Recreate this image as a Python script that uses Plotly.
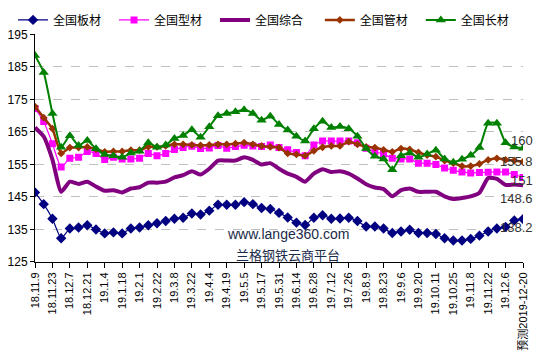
import plotly.graph_objects as go

categories = [
    "18.11.9", "18.11.16", "18.11.23", "18.11.30", "18.12.7", "18.12.14", "18.12.21", "18.12.28",
    "19.1.4", "19.1.11", "19.1.18", "19.1.25", "19.2.1", "19.2.15", "19.2.22", "19.3.1",
    "19.3.8", "19.3.15", "19.3.22", "19.3.29", "19.4.4", "19.4.12", "19.4.19", "19.4.26",
    "19.5.5", "19.5.10", "19.5.17", "19.5.24", "19.5.31", "19.6.6", "19.6.14", "19.6.21",
    "19.6.28", "19.7.5", "19.7.12", "19.7.19", "19.7.26", "19.8.2", "19.8.9", "19.8.16",
    "19.8.23", "19.8.30", "19.9.6", "19.9.12", "19.9.20", "19.9.27", "19.10.11", "19.10.18",
    "19.10.25", "19.11.1", "19.11.8", "19.11.15", "19.11.22", "19.11.29", "19.12.6", "19.12.13",
    "预测2019-12-20",
]

plate = [146.4, 142.8, 138.3, 132.3, 135.3, 135.6, 136.3, 135.0, 133.8, 134.1, 133.8, 135.3,
         135.6, 136.3, 136.9, 137.6, 138.3, 138.6, 139.9, 139.6, 140.8, 142.6, 142.6, 142.6,
         143.4, 142.8, 141.6, 141.3, 140.1, 138.7, 137.1, 136.4, 138.6, 139.4, 138.3, 138.4,
         138.6, 137.6, 135.9, 135.9, 135.3, 133.9, 134.4, 134.9, 133.9, 133.9, 133.6, 132.3,
         131.6, 131.6, 132.1, 133.1, 134.4, 135.3, 135.8, 137.8, 138.2]

section = [172.2, 168.2, 161.4, 154.2, 156.9, 157.2, 159.0, 158.4, 156.5, 157.2, 156.7, 156.7,
           156.9, 158.4, 157.7, 158.4, 159.6, 160.2, 160.6, 159.9, 160.1, 160.8, 160.0, 160.5,
           160.9, 160.7, 160.5, 161.0, 160.2, 159.5, 158.7, 157.7, 161.0, 162.2, 162.2, 162.2,
           162.2, 161.7, 160.0, 158.9, 158.2, 156.9, 156.7, 156.7, 155.4, 155.4, 155.0, 153.9,
           153.2, 152.7, 152.4, 152.5, 152.6, 152.7, 152.7, 151.9, 151.0]

composite = [166.4, 163.6, 156.5, 146.6, 149.7, 149.0, 149.7, 148.2, 146.9, 147.1, 146.4, 147.6,
             148.0, 149.4, 149.4, 149.7, 151.0, 151.7, 152.9, 151.9, 153.7, 156.2, 156.2, 156.2,
             157.2, 156.4, 155.0, 155.4, 153.7, 152.2, 151.2, 149.7, 152.2, 153.5, 152.7, 152.9,
             152.2, 150.7, 148.9, 147.9, 147.4, 145.2, 147.1, 147.6, 146.6, 146.6, 146.6, 145.2,
             144.4, 144.7, 145.2, 146.3, 150.8, 150.6, 148.7, 148.8, 148.6]

pipe = [172.8, 169.4, 166.0, 158.4, 160.2, 160.2, 160.4, 159.7, 158.9, 159.0, 159.0, 159.4,
        159.4, 160.4, 160.4, 160.7, 161.2, 161.2, 161.0, 160.9, 161.0, 161.2, 161.2, 161.4,
        161.7, 161.2, 160.7, 160.4, 160.2, 158.4, 158.1, 157.7, 159.2, 160.3, 160.7, 160.7,
        162.0, 161.2, 160.4, 160.2, 159.5, 158.9, 159.9, 159.6, 158.7, 157.9, 157.4, 156.2,
        155.4, 154.5, 154.5, 155.2, 156.4, 156.9, 156.4, 156.2, 155.8]

long_steel = [188.5, 183.3, 170.7, 160.3, 163.8, 160.8, 162.4, 159.8, 158.1, 157.7, 157.2, 158.5,
              159.1, 161.7, 160.3, 161.0, 163.0, 163.9, 165.7, 163.4, 166.6, 170.0, 170.7, 171.2,
              171.8, 170.7, 168.6, 169.8, 167.3, 165.6, 163.7, 162.2, 166.0, 168.3, 166.4, 166.7,
              166.0, 163.7, 159.9, 157.5, 156.7, 153.4, 157.7, 158.5, 157.2, 158.2, 159.4, 156.7,
              155.7, 156.6, 157.8, 160.2, 167.7, 167.7, 161.7, 160.4, 160.0]

y_ticks = [125, 135, 145, 155, 165, 175, 185, 195]

fig = go.Figure()

series = [
    ("全国板材", plate, "#000080", 1.2, "diamond", 8, "lines+markers", "legend"),
    ("全国型材", section, "#FF00FF", 1.2, "square", 7, "lines+markers", "legend"),
    ("全国综合", composite, "#800080", 4, None, 0, "lines", "legend"),
    ("全国管材", pipe, "#993300", 2.5, "diamond", 6, "lines+markers", "legend2"),
    ("全国长材", long_steel, "#008000", 2, "triangle-up", 9, "lines+markers", "legend2"),
]
for name, vals, color, width, sym, size, mode, leg in series:
    kw = dict(x=categories, y=vals, name=name, mode=mode, legend=leg,
              line=dict(color=color, width=width, shape="spline", smoothing=0.5))
    if sym:
        kw["marker"] = dict(symbol=sym, size=size, color=color, line=dict(width=0))
    fig.add_trace(go.Scatter(**kw))

end_labels = [
    (long_steel[-1], "160", 8),
    (pipe[-1], "155.8", 0),
    (section[-1], "151", -3),
    (composite[-1], "148.6", -13),
    (plate[-1], "138.2", -8),
]
for val, txt, ys in end_labels:
    fig.add_annotation(x=categories[-1], y=val, text=txt, showarrow=False,
                       xanchor="right", yanchor="middle", xshift=12, yshift=ys,
                       font=dict(size=13, color="#333333", family="Liberation Sans, Arial"))

fig.add_annotation(xref="paper", yref="paper", x=0.518, y=0.125, text="www.lange360.com",
                   showarrow=False, xanchor="center", yanchor="middle",
                   font=dict(size=14, color="#1a2a4a", family="Liberation Sans, Arial"))
fig.add_annotation(xref="paper", yref="paper", x=0.518, y=0.034, text="兰格钢铁云商平台",
                   showarrow=False, xanchor="center", yanchor="middle",
                   font=dict(size=13, color="#1a2a4a", family="Noto Sans CJK SC"))

legend_common = dict(orientation="h", xref="container", yref="container",
                     xanchor="left", y=0.985, yanchor="top",
                     entrywidth=56, entrywidthmode="pixels", itemwidth=30,
                     font=dict(size=12, family="Noto Sans CJK SC", color="black"),
                     bgcolor="rgba(0,0,0,0)", borderwidth=0, tracegroupgap=0)

fig.update_layout(
    width=543, height=361,
    margin=dict(l=35, r=20, t=30, b=99),
    paper_bgcolor="white", plot_bgcolor="white",
    font=dict(family="Liberation Sans, Noto Sans CJK SC", size=11, color="black"),
    showlegend=True,
    legend=dict(x=0.024, **legend_common),
    legend2=dict(x=0.589, **legend_common),
)
fig.update_xaxes(type="category", range=[0, len(categories) - 1], automargin=False,
                 tickmode="array", tickvals=categories[::2], ticktext=categories[::2],
                 tickangle=-90, showline=True, linecolor="black", linewidth=1,
                 ticks="outside", ticklen=5, tickcolor="black", showgrid=False,
                 tickfont=dict(size=11, family="Liberation Sans, Noto Sans CJK SC"))
fig.update_yaxes(range=[125, 195], tickvals=y_ticks, showline=True, linecolor="black", linewidth=1,
                 ticks="outside", ticklen=4, tickcolor="black", automargin=False,
                 showgrid=True, gridcolor="#C0C0C0", griddash="dash", gridwidth=1,
                 zeroline=False, tickfont=dict(size=12, family="Liberation Sans, Arial"))

fig.write_html("out.html", config={"displayModeBar": False},
               post_script="document.body.style.margin='0';document.body.style.overflow='hidden';")
